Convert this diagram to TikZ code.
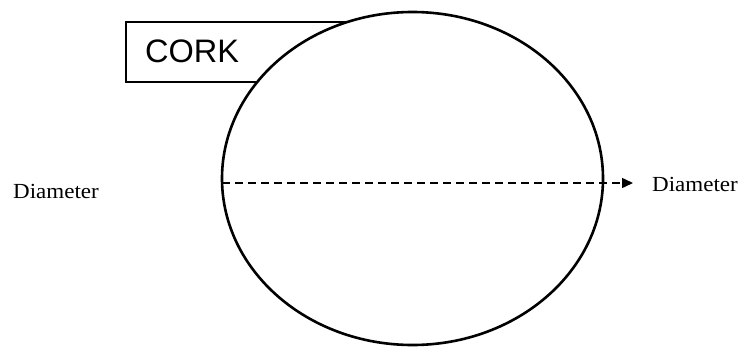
\documentclass[tikz,border=0pt]{standalone}
\usepackage{fontspec}
\setmainfont{Liberation Serif}
\newfontfamily\corkfont{Liberation Sans}
\usetikzlibrary{arrows.meta}
\tikzset{
  lbl/.style={font=\fontsize{21.5}{24}\selectfont, inner sep=0pt, xscale=1.07},
  corkbox/.style={draw, line width=1.4pt},
  bubble/.style={draw, fill=white, line width=2.6pt},
  diam/.style={line width=1.5pt, dash pattern=on 8pt off 5pt, -{Triangle[length=11pt,width=10pt]}}
}
\begin{document}
\begin{tikzpicture}[x=1pt,y=-1pt]
\useasboundingbox (0,0) rectangle (739,348);
\fill[white] (0,0) rectangle (739,348);
\draw[corkbox] (126,22) rectangle (360,82);
\node[anchor=west, inner sep=0pt, font=\corkfont\fontsize{32.5}{36}\selectfont] (cork) at (145,51) {CORK};
\draw[bubble] (412.5,178.5) ellipse [x radius=190.5, y radius=166.5];
\coordinate (dl) at (222,183);
\coordinate (dr) at (633,183);
\draw[diam] (dl) -- (dr);
\node[lbl, anchor=west] (lefttext) at (13,191) {Diameter};
\node[lbl, anchor=west] (righttext) at (652,184) {Diameter};
\end{tikzpicture}
\end{document}
